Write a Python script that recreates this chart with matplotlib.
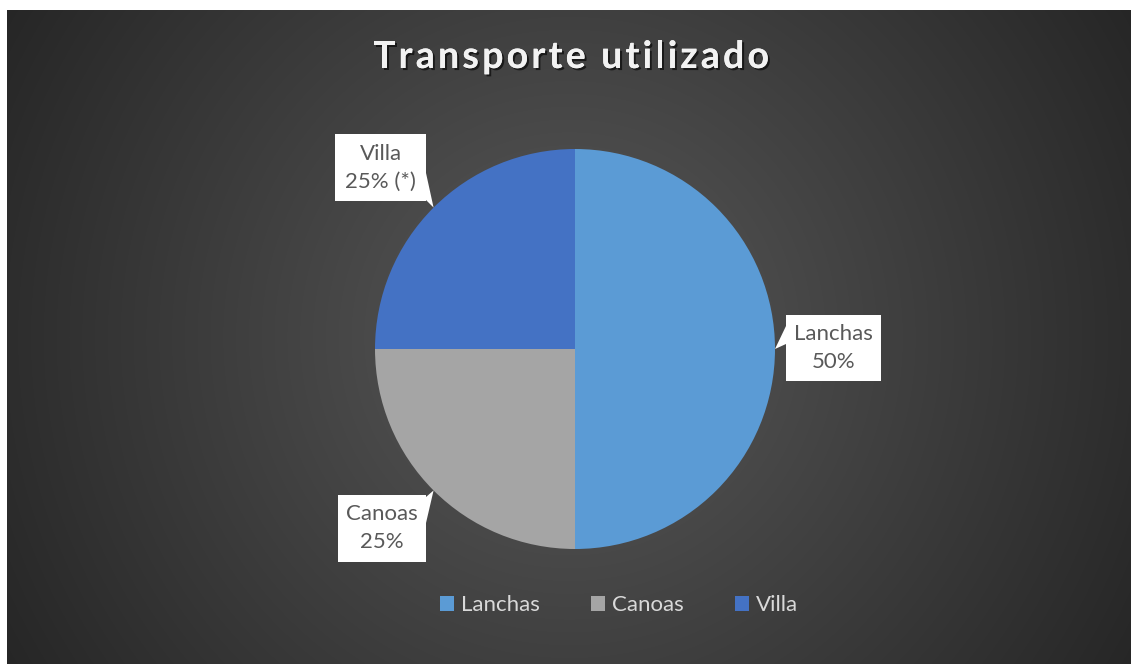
import numpy as np
import matplotlib.pyplot as plt
from matplotlib.patches import Patch, Polygon, Rectangle
import matplotlib.patheffects as pe

# data
categories = ['Lanchas', 'Canoas', 'Villa']
values = [50, 25, 25]
label_texts = ['50%', '25%', '25% (*)']
colors = ['#5B9BD5', '#A5A5A5', '#4472C4']
title = 'Transporte utilizado'

W, H = 1131, 664
fig = plt.figure(figsize=(W / 100, H / 100), dpi=100)
fig.patch.set_facecolor('white')

# dark radial background
bg = fig.add_axes([7 / W, 0, (W - 7) / W, (H - 10) / H])
bw, bh = W - 7, H - 10
yy, xx = np.mgrid[0:bh, 0:bw]
d = np.hypot(xx - bw / 2, yy - bh / 2)
g = np.clip(89 - 0.078 * d, 36, 95) / 255.0
bg.imshow(np.dstack([g, g, g]), aspect='auto', interpolation='bilinear')
bg.axis('off')

# pie, centre (575, 349) px, radius 200 px
cx, cy, R = 575, 349, 200
pax = fig.add_axes([(cx - R) / W, (H - cy - R) / H, 2 * R / W, 2 * R / H])
pax.pie(values, colors=colors, startangle=90, counterclock=False, radius=1,
        wedgeprops=dict(linewidth=0))
pax.set_xlim(-1, 1)
pax.set_ylim(-1, 1)
pax.axis('off')

# overlay in pixel coordinates
ov = fig.add_axes([0, 0, 1, 1])
ov.set_xlim(0, W)
ov.set_ylim(H, 0)
ov.axis('off')
ov.patch.set_alpha(0)

# title with letter spacing, drawn char by char
fig.canvas.draw()
rend = fig.canvas.get_renderer()
tkw = dict(fontsize=27, fontweight='bold', family=['Lato', 'DejaVu Sans'])
def tw(s):
    t = ov.text(0, 0, s, **tkw)
    w = t.get_window_extent(rend).width
    t.remove()
    return w
full = tw(title)
sp = (396 - full) / (len(title) - 1)
x0 = 373
for i, ch in enumerate(title):
    xi = x0 + (tw(title[:i]) if i > 0 else 0) + i * sp
    ov.text(xi, 57, ch, color='#F2F2F2', ha='left', va='center', **tkw,
            path_effects=[pe.withSimplePatchShadow(offset=(1.5, -1.5), shadow_rgbFace='black', alpha=0.6),
                          pe.Normal()])

# data label callouts
boxes = {'Lanchas': (786, 315, 95, 66), 'Canoas': (338, 495, 88, 67), 'Villa': (335, 134, 91, 67)}
bases = {'Lanchas': ((786, 326), (786, 344)), 'Canoas': ((426, 523), (426, 497)),
         'Villa': ((426, 173), (426, 200))}
frac = np.array(values) / sum(values)
cum = np.concatenate([[0], np.cumsum(frac)[:-1]])
for cat, txt, f, c0 in zip(categories, label_texts, frac, cum):
    th = np.deg2rad(90 - 360 * (c0 + f / 2))
    tip = (cx + R * np.cos(th), cy - R * np.sin(th))
    bx, by, bwid, bht = boxes[cat]
    ov.add_patch(Rectangle((bx, by), bwid, bht, facecolor='white', edgecolor='none', zorder=5))
    b1, b2 = bases[cat]
    ov.add_patch(Polygon([b1, tip, b2], closed=True, facecolor='white', edgecolor='none', zorder=5))
    mx, my = bx + bwid / 2, by + bht / 2
    ov.text(mx, my - 14, cat, ha='center', va='center', fontsize=16, color='#595959',
            family=['Lato', 'DejaVu Sans'], zorder=6)
    ov.text(mx, my + 14, txt, ha='center', va='center', fontsize=16, color='#595959',
            family=['Lato', 'DejaVu Sans'], zorder=6)

# legend
handles = [Patch(facecolor=c, edgecolor='none') for c in colors]
leg = fig.legend(handles, categories, loc='center', bbox_to_anchor=(619 / W, 1 - 605 / H), ncol=3,
                 frameon=False, handlelength=0.65, handleheight=0.65,
                 handletextpad=0.3, columnspacing=2.3,
                 prop=dict(family=['Lato', 'DejaVu Sans'], size=16))
for t in leg.get_texts():
    t.set_color('#D9D9D9')

fig.savefig('out.png', dpi=100)
